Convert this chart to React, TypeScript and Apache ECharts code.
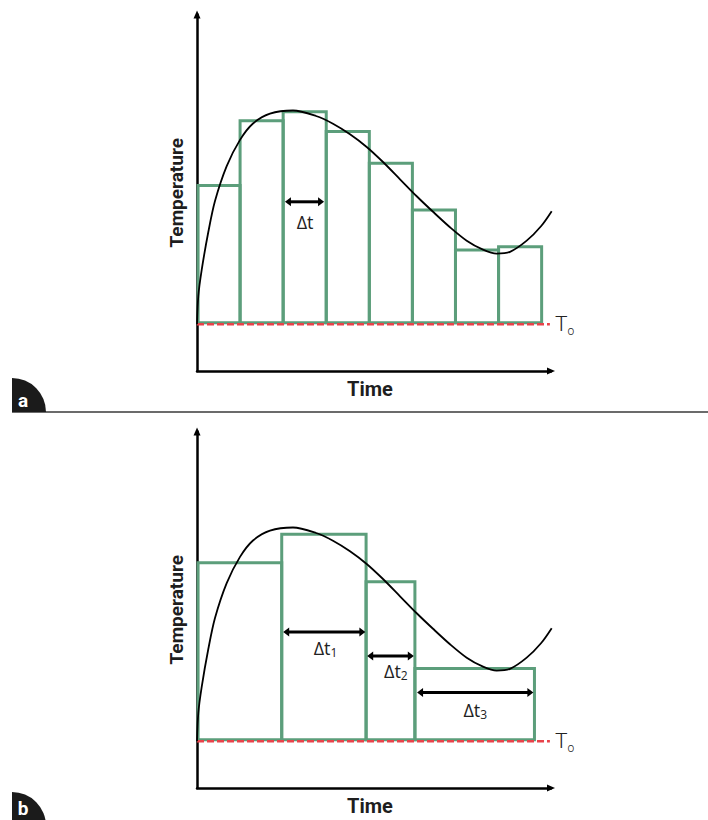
import React, { useEffect, useRef } from "react";
import * as echarts from "echarts";

// ---- data (arbitrary units) ----
const T0 = 13; // ambient temperature level
const BAR_BASE = 13.4;
const X_MAX = 98.6;
const Y_MAX = 99;

// panel a: equal time steps
const barsAStart = [0.3, 12, 24, 36, 48, 60, 72, 84];
const barsAEnd = [12, 24, 36, 48, 60, 72, 84, 96];
const barsATop = [51.5, 69.5, 72, 66.5, 57.7, 44.7, 33.6, 34.5];

// panel b: variable time steps
const barsBStart = [0.3, 23.6, 47.1, 60.7];
const barsBEnd = [23.6, 47.1, 60.7, 94];
const barsBTop = [62.6, 70.5, 57.3, 33.2];

// temperature history curve (same in both panels)
const curveTime = [0, 0.36, 1.31, 3.15, 5.01, 8.27, 11.98, 15.6, 20.33, 26.74, 33.15, 37.88, 42.62, 47.27, 51.81, 56.55, 61.2, 65.74, 70.47, 75.13, 79.67, 83.48, 87.19, 91.84, 95.82, 98.8];
const curveTemp = [13, 20.8, 28.1, 38.6, 47.2, 56.9, 64.2, 68.75, 71.5, 72.36, 70.83, 68.7, 65.76, 62.23, 58.05, 53.26, 48.54, 44.23, 39.93, 36.2, 33.7, 32.6, 33.1, 36.2, 40.2, 44.4];

// T0 reference line extent
const t0LineEnd = 98.3;

// Δt arrows, panel a
const arrowsAFrom = [24.5];
const arrowsATo = [35.4];
const arrowsALevel = [47];
const arrowsALabelX = [30.1];
const arrowsALabelY = [41.5];
const arrowsALabels = ["Δt"];

// Δt arrows, panel b
const arrowsBFrom = [24.0, 47.4, 61.3];
const arrowsBTo = [46.9, 60.4, 93.7];
const arrowsBLevel = [43.3, 36.7, 26.5];
const arrowsBLabelX = [35.8, 55.4, 77.5];
const arrowsBLabelY = [38.9, 32.6, 21.7];
const arrowsBLabels = ["Δt{s|1}", "Δt{s|2}", "Δt{s|3}"];

const panelLetters = ["a", "b"];

// ---- styles ----
const GREEN = "#5c9e7b";
const RED = "#e8434a";
const BOLD_FONT = "Roboto, 'Liberation Sans', sans-serif";
const LABEL_FONT = "'Open Sans', 'Noto Sans', sans-serif";

const PX_X = 3.59;
const PX_Y = 3.6;
const GRID_W = X_MAX * PX_X;
const GRID_H = Y_MAX * PX_Y;

function axisPair(gridIndex: number) {
  const line = {
    show: true,
    symbol: ["none", "triangle"],
    symbolSize: [7, 8],
    lineStyle: { color: "#000", width: 2.5 },
  };
  return {
    x: {
      type: "value",
      gridIndex,
      min: 0,
      max: X_MAX,
      axisLine: line,
      axisTick: { show: false },
      axisLabel: { show: false },
      splitLine: { show: false },
      name: "Time",
      nameLocation: "middle",
      nameGap: 8,
      nameTextStyle: {
        fontFamily: BOLD_FONT,
        fontWeight: "bold",
        fontSize: 20,
        color: "#1e1e1e",
        verticalAlign: "top",
        padding: [0, 8, 0, 0],
      },
    },
    y: {
      type: "value",
      gridIndex,
      min: 0,
      max: Y_MAX,
      axisLine: line,
      axisTick: { show: false },
      axisLabel: { show: false },
      splitLine: { show: false },
      name: "Temperature",
      nameLocation: "middle",
      nameRotate: 90,
      nameGap: 11,
      nameTextStyle: {
        fontFamily: BOLD_FONT,
        fontWeight: "bold",
        fontSize: 19,
        color: "#1e1e1e",
      },
    },
  };
}

function barSeries(idx: number, start: number[], end: number[], top: number[]) {
  return {
    type: "custom",
    xAxisIndex: idx,
    yAxisIndex: idx,
    z: 2,
    silent: true,
    data: start.map((s, i) => [s, end[i], top[i]]),
    renderItem: (params: any, api: any) => {
      const p0 = api.coord([api.value(0), BAR_BASE]);
      const p1 = api.coord([api.value(1), api.value(2)]);
      return {
        type: "rect",
        shape: { x: p0[0], y: p1[1], width: p1[0] - p0[0], height: p0[1] - p1[1] },
        style: { fill: "none", stroke: GREEN, lineWidth: 3 },
      };
    },
  };
}

function t0Series(idx: number) {
  return {
    type: "line",
    xAxisIndex: idx,
    yAxisIndex: idx,
    z: 3,
    silent: true,
    symbol: "none",
    data: [
      [0, T0],
      [t0LineEnd, T0],
    ],
    lineStyle: { color: RED, width: 2.5, type: [7, 3] },
    endLabel: {
      show: true,
      distance: 5,
      formatter: "{t|T}{s|o}",
      rich: {
        t: { fontFamily: BOLD_FONT, fontWeight: 300, fontSize: 21, color: "#222", lineHeight: 26 },
        s: { fontFamily: BOLD_FONT, fontWeight: 300, fontSize: 12, color: "#222", verticalAlign: "bottom", lineHeight: 13 },
      },
    },
  };
}

function curveSeries(idx: number) {
  return {
    type: "line",
    xAxisIndex: idx,
    yAxisIndex: idx,
    z: 4,
    silent: true,
    symbol: "none",
    smooth: 0.3,
    data: curveTime.map((t, i) => [t, curveTemp[i]]),
    lineStyle: { color: "#000", width: 1.8 },
  };
}

function arrowSeries(
  idx: number,
  from: number[],
  to: number[],
  level: number[],
  lx: number[],
  ly: number[],
  labels: string[]
) {
  return {
    type: "custom",
    xAxisIndex: idx,
    yAxisIndex: idx,
    z: 5,
    silent: true,
    data: from.map((f, i) => [f, to[i], level[i], lx[i], ly[i]]),
    renderItem: (params: any, api: any) => {
      const a = api.coord([api.value(0), api.value(2)]);
      const b = api.coord([api.value(1), api.value(2)]);
      const l = api.coord([api.value(3), api.value(4)]);
      const hl = 6;
      const hw = 4.5;
      return {
        type: "group",
        children: [
          {
            type: "line",
            shape: { x1: a[0] + hl - 1, y1: a[1], x2: b[0] - hl + 1, y2: b[1] },
            style: { stroke: "#000", lineWidth: 3 },
          },
          {
            type: "polygon",
            shape: { points: [[a[0], a[1]], [a[0] + hl, a[1] - hw], [a[0] + hl, a[1] + hw]] },
            style: { fill: "#000" },
          },
          {
            type: "polygon",
            shape: { points: [[b[0], b[1]], [b[0] - hl, b[1] - hw], [b[0] - hl, b[1] + hw]] },
            style: { fill: "#000" },
          },
          {
            type: "text",
            x: l[0],
            y: l[1],
            style: {
              text: labels[params.dataIndex],
              align: "center",
              verticalAlign: "middle",
              fontFamily: LABEL_FONT,
              fontSize: 18,
              fill: "#222",
              lineHeight: 22,
              rich: {
                s: { fontFamily: LABEL_FONT, fontSize: 12, fill: "#222", verticalAlign: "bottom", lineHeight: 13 },
              },
            },
          },
        ],
      };
    },
  };
}

export default function App() {
  const ref = useRef<HTMLDivElement>(null);
  useEffect(() => {
    if (!ref.current) return;
    const chart = echarts.init(ref.current, null, { renderer: "svg" });
    const ax0 = axisPair(0);
    const ax1 = axisPair(1);
    const gridA = { left: 197, top: 371 - GRID_H, width: GRID_W, height: GRID_H };
    const gridB = { left: 197, top: 788 - GRID_H, width: GRID_W, height: GRID_H };

    const panelLabel = (cy: number, ty: number, letter: string) => [
      {
        type: "sector",
        shape: { cx: 12, cy, r: 34, r0: 0, startAngle: -Math.PI / 2, endAngle: 0 },
        style: { fill: "#1b1b1b" },
        z: 10,
      },
      {
        type: "text",
        x: 23,
        y: ty,
        style: {
          text: letter,
          align: "center",
          verticalAlign: "middle",
          fill: "#fff",
          fontFamily: BOLD_FONT,
          fontWeight: "bold",
          fontSize: 19,
        },
        z: 11,
      },
    ];

    chart.setOption({
      animation: false,
      backgroundColor: "#fff",
      grid: [gridA, gridB],
      xAxis: [ax0.x, ax1.x],
      yAxis: [ax0.y, ax1.y],
      graphic: [
        {
          type: "line",
          shape: { x1: 12, y1: 412, x2: 708, y2: 412 },
          style: { stroke: "#6b6b6b", lineWidth: 2 },
          z: 9,
        },
        ...panelLabel(412, 400, panelLetters[0]),
        ...panelLabel(826, 808, panelLetters[1]),
      ],
      series: [
        barSeries(0, barsAStart, barsAEnd, barsATop),
        t0Series(0),
        curveSeries(0),
        arrowSeries(0, arrowsAFrom, arrowsATo, arrowsALevel, arrowsALabelX, arrowsALabelY, arrowsALabels),
        barSeries(1, barsBStart, barsBEnd, barsBTop),
        t0Series(1),
        curveSeries(1),
        arrowSeries(1, arrowsBFrom, arrowsBTo, arrowsBLevel, arrowsBLabelX, arrowsBLabelY, arrowsBLabels),
      ],
    });
    return () => chart.dispose();
  }, []);
  return (
    <div
      ref={ref}
      style={{ position: "absolute", left: 0, top: 0, width: 708, height: 820, background: "#fff" }}
    />
  );
}
